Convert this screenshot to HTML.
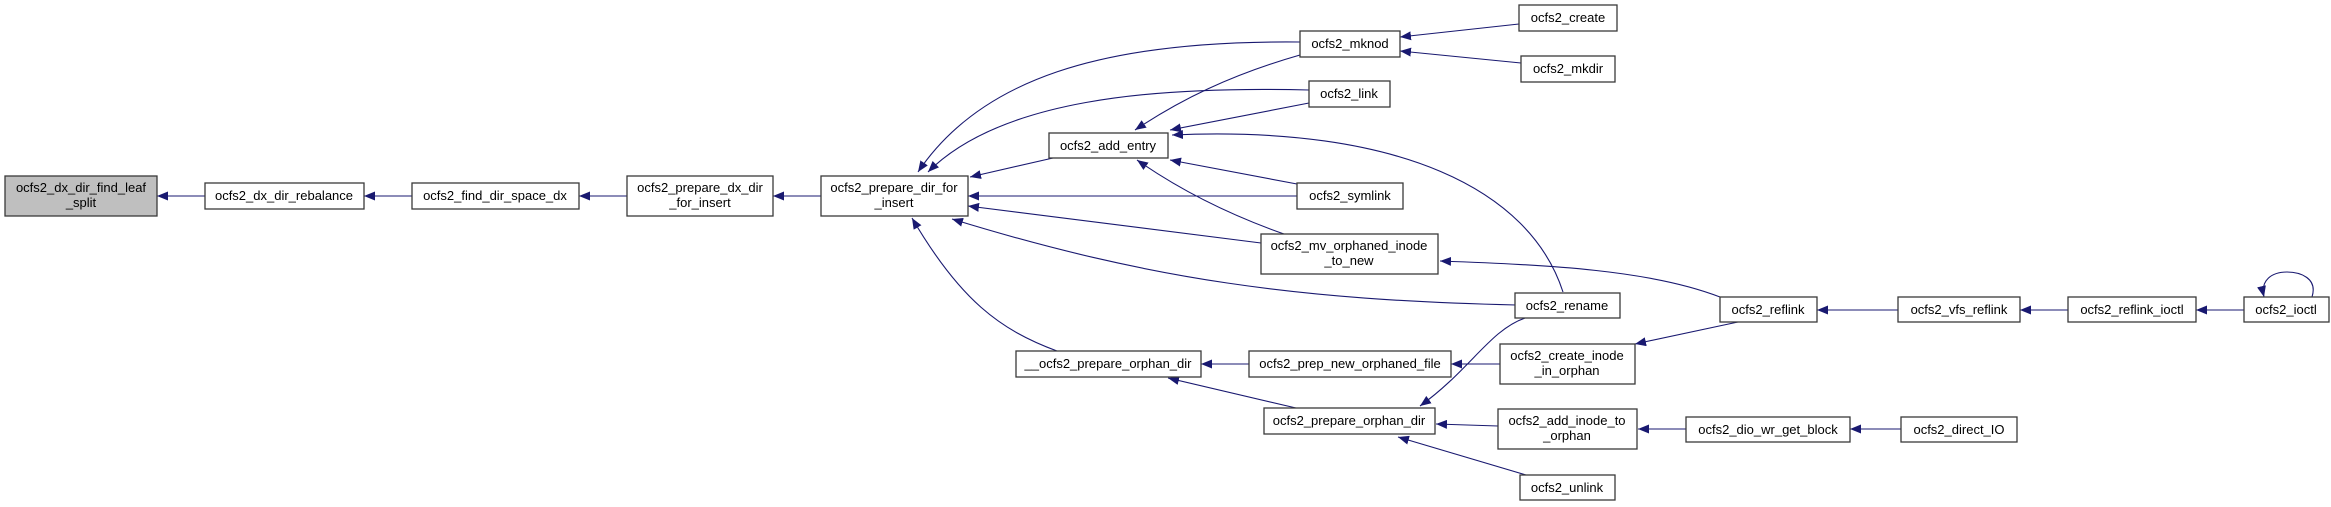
<!DOCTYPE html>
<html><head><meta charset="utf-8"><style>
html,body{margin:0;padding:0;background:#fff;}
svg{display:block;}
text{font-family:"Liberation Sans",Arial,sans-serif;font-size:13px;fill:#000;text-anchor:middle;}
.n{fill:#fff;stroke:#3a3a3a;stroke-width:1.3;}
.e{fill:none;stroke:#191970;stroke-width:1.1;}
</style></head><body>
<svg width="2331" height="507" viewBox="0 0 2331 507" xmlns="http://www.w3.org/2000/svg">
<defs>
<marker id="a" viewBox="0 0 11 9" refX="11" refY="4.5" markerWidth="11" markerHeight="9" markerUnits="userSpaceOnUse" orient="auto">
<path d="M0,0 L11,4.5 L0,9 z" fill="#191970"/>
</marker>
</defs>
<g class="e" marker-end="url(#a)">
<path d="M205,196 L157,196"/>
<path d="M412,196 L364,196"/>
<path d="M627,196 L579,196"/>
<path d="M821,196 L773,196"/>
<path d="M1053,158 L970,177"/>
<path d="M1300,42 C1100,40 980,80 918,172"/>
<path d="M1309,90 C1150,86 1000,100 928,172"/>
<path d="M1297,196 L968,196"/>
<path d="M1261,243 L968,206"/>
<path d="M1516,305 C1300,300 1150,280 952,219"/>
<path d="M1057,351 C1000,330 960,300 912,218"/>
<path d="M1300,55 C1230,75 1180,100 1135,130"/>
<path d="M1309,103 L1170,130"/>
<path d="M1563,292 C1530,190 1400,125 1172,135"/>
<path d="M1297,184 L1170,160"/>
<path d="M1284,234 C1230,215 1180,190 1137,160"/>
<path d="M1519,24 L1400,37"/>
<path d="M1521,63 L1400,51"/>
<path d="M1720,297 C1650,270 1550,265 1440,261"/>
<path d="M1738,322 L1635,344"/>
<path d="M1898,310 L1817,310"/>
<path d="M2068,310 L2020,310"/>
<path d="M2244,310 L2196,310"/>
<path d="M2312,297 C2318,278 2300,272 2287,272 C2272,272 2260,280 2264,297"/>
<path d="M1249,364 L1201,364"/>
<path d="M1296,408 L1168,378"/>
<path d="M1501,364 L1451,364"/>
<path d="M1525,318 C1490,330 1470,370 1420,406"/>
<path d="M1498,426 L1436,424"/>
<path d="M1526,475 L1398,437"/>
<path d="M1686,429 L1638,429"/>
<path d="M1901,429 L1850,429"/>
</g>
<g>
<rect x="5" y="176" width="152" height="40" fill="#bfbfbf" stroke="#3a3a3a" stroke-width="1.3"/>
<text x="81" y="192">ocfs2_dx_dir_find_leaf</text><text x="81" y="207">_split</text>
<rect class="n" x="205" y="183" width="159" height="26"/><text x="284" y="200">ocfs2_dx_dir_rebalance</text>
<rect class="n" x="412" y="183" width="167" height="26"/><text x="495" y="200">ocfs2_find_dir_space_dx</text>
<rect class="n" x="627" y="176" width="146" height="40"/><text x="700" y="192">ocfs2_prepare_dx_dir</text><text x="700" y="207">_for_insert</text>
<rect class="n" x="821" y="176" width="147" height="40"/><text x="894" y="192">ocfs2_prepare_dir_for</text><text x="894" y="207">_insert</text>
<rect class="n" x="1049" y="133" width="119" height="25"/><text x="1108" y="150">ocfs2_add_entry</text>
<rect class="n" x="1300" y="31" width="100" height="26"/><text x="1350" y="48">ocfs2_mknod</text>
<rect class="n" x="1309" y="81" width="81" height="26"/><text x="1349" y="98">ocfs2_link</text>
<rect class="n" x="1297" y="183" width="106" height="26"/><text x="1350" y="200">ocfs2_symlink</text>
<rect class="n" x="1261" y="234" width="177" height="40"/><text x="1349" y="250">ocfs2_mv_orphaned_inode</text><text x="1349" y="265">_to_new</text>
<rect class="n" x="1016" y="351" width="185" height="26"/><text x="1108" y="368">__ocfs2_prepare_orphan_dir</text>
<rect class="n" x="1249" y="351" width="202" height="26"/><text x="1350" y="368">ocfs2_prep_new_orphaned_file</text>
<rect class="n" x="1264" y="408" width="171" height="26"/><text x="1349" y="425">ocfs2_prepare_orphan_dir</text>
<rect class="n" x="1519" y="5" width="98" height="26"/><text x="1568" y="22">ocfs2_create</text>
<rect class="n" x="1521" y="56" width="94" height="26"/><text x="1568" y="73">ocfs2_mkdir</text>
<rect class="n" x="1515" y="293" width="105" height="25"/><text x="1567" y="310">ocfs2_rename</text>
<rect class="n" x="1500" y="344" width="135" height="40"/><text x="1567" y="360">ocfs2_create_inode</text><text x="1567" y="375">_in_orphan</text>
<rect class="n" x="1498" y="409" width="139" height="40"/><text x="1567" y="425">ocfs2_add_inode_to</text><text x="1567" y="440">_orphan</text>
<rect class="n" x="1520" y="475" width="95" height="25"/><text x="1567" y="492">ocfs2_unlink</text>
<rect class="n" x="1720" y="297" width="97" height="25"/><text x="1768" y="314">ocfs2_reflink</text>
<rect class="n" x="1898" y="297" width="122" height="25"/><text x="1959" y="314">ocfs2_vfs_reflink</text>
<rect class="n" x="2068" y="297" width="128" height="25"/><text x="2132" y="314">ocfs2_reflink_ioctl</text>
<rect class="n" x="2244" y="297" width="85" height="25"/><text x="2286" y="314">ocfs2_ioctl</text>
<rect class="n" x="1686" y="417" width="164" height="25"/><text x="1768" y="434">ocfs2_dio_wr_get_block</text>
<rect class="n" x="1901" y="417" width="116" height="25"/><text x="1959" y="434">ocfs2_direct_IO</text>
</g>
</svg>
</body></html>
